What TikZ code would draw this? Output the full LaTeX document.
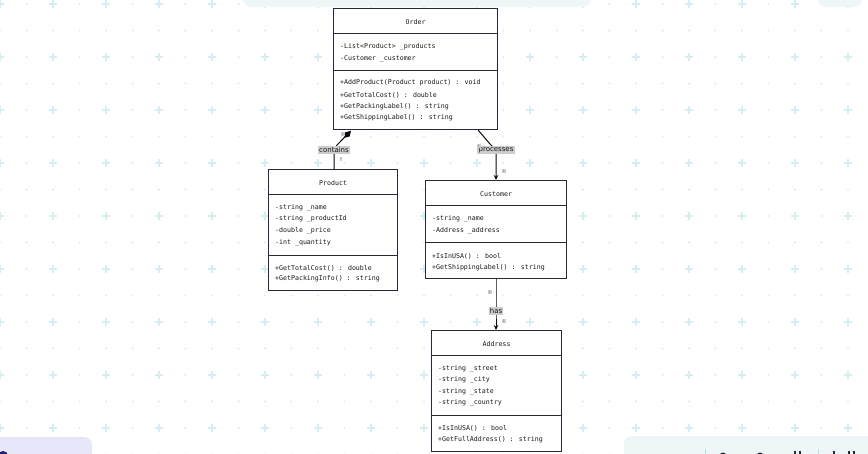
\documentclass[tikz,border=0pt]{standalone}
\usepackage{fontspec}
\newfontfamily\umlfont{DejaVu Sans Mono}
\newfontfamily\lblfont{DejaVu Sans}
\usetikzlibrary{arrows.meta,calc}

\definecolor{gridc}{RGB}{214,237,241}
\definecolor{panelc}{RGB}{238,246,248}
\definecolor{panelv}{RGB}{230,230,248}
\definecolor{boxc}{RGB}{40,40,60}
\definecolor{linec}{RGB}{10,10,10}
\definecolor{txtc}{RGB}{25,25,25}
\definecolor{lblbg}{RGB}{204,204,204}
\definecolor{sepc}{RGB}{184,220,228}

\tikzset{
  classbox/.style={draw=boxc, line width=1.2pt, fill=white, anchor=north west,
    inner sep=0pt, rectangle},
  member/.style={anchor=west, inner sep=0pt, text=txtc,
    font=\umlfont\fontsize{6.6}{7}\selectfont},
  ctitle/.style={anchor=center, inner sep=0pt, text=txtc,
    font=\umlfont\fontsize{6.6}{7}\selectfont},
  divider/.style={draw=boxc, line width=0.9pt},
  rel/.style={draw=linec, line width=1pt},
  rellbl/.style={fill=lblbg, inner sep=1.3pt, text=txtc,
    font=\lblfont\fontsize{7}{8}\selectfont},
  mult/.style={fill=lblbg, inner sep=0.6pt, text=gray,
    font=\lblfont\fontsize{3.2}{3.2}\selectfont},
}

\newcommand\classdivider[2]{%
  \draw[divider] ($(#1.north west)+(0,#2)$) -- ($(#1.north east)+(0,#2)$);}
\newcommand\classtitle[3]{%
  \node[ctitle] (#1-title) at ($(#1.north)+(0,#2)$) {#3};}
\newcommand\classmember[4]{%
  \node[member] (#1-#2) at ($(#1.north west)+(7,#3)$) {#4};}

\begin{document}
\begin{tikzpicture}[x=1pt,y=-1pt]
\useasboundingbox (0,0) rectangle (868,453);
\fill[white] (0,0) rectangle (868,453);

% dotted background grid with crosses
\foreach \i in {0,...,33}
  \foreach \j in {0,...,17}
    \fill[gridc] (\i*26.5, 4+\j*26.5) circle (1.1pt);
\foreach \i in {0,...,16}
  \foreach \j in {0,...,8}
  {
    \draw[gridc, line width=1.3pt] (\i*53-3.6, 4+\j*53) -- (\i*53+3.6, 4+\j*53);
    \draw[gridc, line width=1.3pt] (\i*53, 0.4+\j*53) -- (\i*53, 7.6+\j*53);
  }

% toolbar panels at the edges
\fill[panelc, rounded corners=8pt] (243,-12) rectangle (591,7);
\fill[panelc, rounded corners=8pt] (818,-12) rectangle (862,7);
\fill[panelv, rounded corners=8pt] (-12,437) rectangle (92,465);
\fill[boxc!70!blue] (3,456) circle (5pt);
\fill[panelc, rounded corners=8pt] (624,436) rectangle (880,465);
\draw[sepc, line width=1pt] (705,449) -- (705,454);
\draw[sepc, line width=1pt] (818,449) -- (818,454);
\fill[boxc] (723,456) circle (3.5pt);
\fill[boxc] (760,456) circle (3.5pt);
\fill[boxc] (794,451) rectangle (796,454);
\fill[boxc] (799,451) rectangle (801,454);
\fill[boxc] (833,451) rectangle (835,454);
\fill[boxc] (848,451) rectangle (850,454);
\fill[boxc] (853,451) rectangle (855,454);

% ---------- Order ----------
\node[classbox, minimum width=164pt, minimum height=121pt] (order) at (333,8) {};
\classtitle{order}{14}{Order}
\classdivider{order}{25}
\classmember{order}{a1}{39}{-List<Product> \_products}
\classmember{order}{a2}{51}{-Customer \_customer}
\classdivider{order}{62}
\classmember{order}{m1}{75}{+AddProduct(Product product) : void}
\classmember{order}{m2}{87}{+GetTotalCost() : double}
\classmember{order}{m3}{99}{+GetPackingLabel() : string}
\classmember{order}{m4}{110}{+GetShippingLabel() : string}

% ---------- Product ----------
\node[classbox, minimum width=129pt, minimum height=121pt] (product) at (268,169) {};
\classtitle{product}{14}{Product}
\classdivider{product}{25}
\classmember{product}{a1}{39}{-string \_name}
\classmember{product}{a2}{50}{-string \_productId}
\classmember{product}{a3}{62}{-double \_price}
\classmember{product}{a4}{74}{-int \_quantity}
\classdivider{product}{86}
\classmember{product}{m1}{99}{+GetTotalCost() : double}
\classmember{product}{m2}{110}{+GetPackingInfo() : string}

% ---------- Customer ----------
\node[classbox, minimum width=141pt, minimum height=98pt] (customer) at (425,180) {};
\classtitle{customer}{14}{Customer}
\classdivider{customer}{25}
\classmember{customer}{a1}{39}{-string \_name}
\classmember{customer}{a2}{51}{-Address \_address}
\classdivider{customer}{62}
\classmember{customer}{m1}{76}{+IsInUSA() : bool}
\classmember{customer}{m2}{88}{+GetShippingLabel() : string}

% ---------- Address ----------
\node[classbox, minimum width=130pt, minimum height=121pt] (address) at (431,330) {};
\classtitle{address}{14}{Address}
\classdivider{address}{25}
\classmember{address}{a1}{39}{-string \_street}
\classmember{address}{a2}{50}{-string \_city}
\classmember{address}{a3}{62}{-string \_state}
\classmember{address}{a4}{73}{-string \_country}
\classdivider{address}{85}
\classmember{address}{m1}{98}{+IsInUSA() : bool}
\classmember{address}{m2}{110}{+GetFullAddress() : string}

% ---------- relations ----------
\coordinate (lcpos) at (334,150);
\coordinate (lppos) at (496,150);
\coordinate (lhpos) at (496,311);
\coordinate (ocomp) at ($(order.south west)+(18,0.6)$);
\coordinate (oproc) at ($(order.south east)+(-20,0)$);

% Order *-- Product : contains
\draw[rel, {Diamond[length=10pt,width=6pt]}-]
  (ocomp) -- ($(lcpos)+(3,-5)$) -- (lcpos) -- (lcpos |- product.north);
\node[rellbl] (lc) at (lcpos) {contains};
\node[mult] (lc-m1) at (343,134) {1};
\node[mult] (lc-m2) at (341,159) {*};

% Order --> Customer : processes
\draw[rel, -{Stealth[length=5pt,width=4.5pt]}]
  (oproc) -- ($(lppos)+(-6,-6)$) -- (lppos) -- (lppos |- customer.north);
\node[rellbl] (lp) at (lppos) {processes};
\node[mult] (lp-m1) at (479,146) {1};
\node[mult] (lp-m2) at (504,171) {1};

% Customer --> Address : has
\draw[rel, -{Stealth[length=5pt,width=4.5pt]}]
  (lhpos |- customer.south) -- (lhpos) -- (lhpos |- address.north);
\node[rellbl] (lh) at (lhpos) {has};
\node[mult] (lh-m1) at (490,292) {1};
\node[mult] (lh-m2) at (504,321) {1};
\end{tikzpicture}
\end{document}
